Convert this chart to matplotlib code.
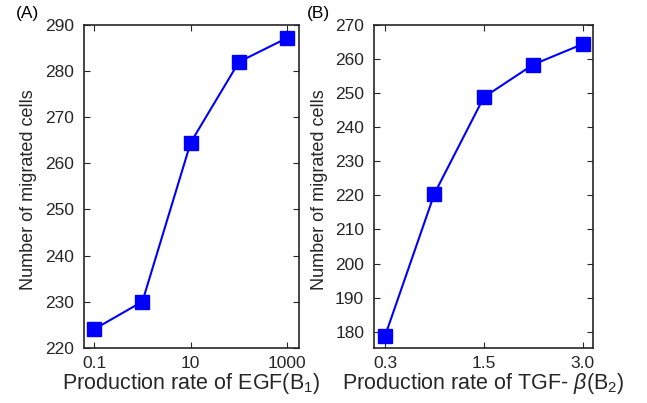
import matplotlib
matplotlib.use('Agg')
import matplotlib.pyplot as plt
from matplotlib.ticker import NullLocator

plt.rcParams['font.family'] = ['Liberation Sans', 'DejaVu Sans']
plt.rcParams['mathtext.fontset'] = 'custom'
plt.rcParams['mathtext.it'] = 'Liberation Sans:italic'
plt.rcParams['mathtext.rm'] = 'Liberation Sans'

# panel A: EGF production rate (log x)
egf_rate = [0.1, 1, 10, 100, 1000]
egf_cells = [224.0, 230.0, 264.5, 282.0, 287.2]
egf_ticks = [0.1, 10, 1000]
egf_ticklabels = ['0.1', '10', '1000']

# panel B: TGF-beta production rate (evenly spaced categories)
tgf_pos = [1, 2, 3, 4, 5]
tgf_cells = [178.7, 220.5, 248.8, 258.4, 264.4]
tgf_ticks = [1, 3, 5]
tgf_ticklabels = ['0.3', '1.5', '3.0']

dark = '#262626'
fig = plt.figure(figsize=(6.47, 4.03), dpi=100)
axA = fig.add_axes([0.1298, 0.1372, 0.3328, 0.8008])
axB = fig.add_axes([0.578, 0.1372, 0.338, 0.8008])

for ax in (axA, axB):
    ax.tick_params(direction='in', top=True, right=True, length=4, width=0.8,
                   labelsize=12.5, colors=dark, labelcolor=dark)
    ax.tick_params(axis='y', pad=7)
    ax.tick_params(axis='x', pad=6)
    for s in ax.spines.values():
        s.set_linewidth(1.2)
        s.set_color(dark)

axA.plot(egf_rate, egf_cells, '-s', color='#0000ff', lw=1.5, ms=9.5, mec='#0000ff')
axA.set_xscale('log')
axA.set_xlim(0.0617, 1774)
axA.set_ylim(220, 290)
axA.set_xticks(egf_ticks)
axA.set_xticklabels(egf_ticklabels)
axA.xaxis.set_minor_locator(NullLocator())
axA.set_yticks(range(220, 291, 10))
axA.set_xlabel('Production rate of EGF(B$_1$)', fontsize=15.5, color=dark, labelpad=0)
axA.set_ylabel('Number of migrated cells', fontsize=13, color=dark)
axA.yaxis.set_label_coords(-0.218, 0.49)

axB.plot(tgf_pos, tgf_cells, '-s', color='#0000ff', lw=1.5, ms=9.5, mec='#0000ff')
axB.set_xlim(0.777, 5.2)
axB.set_ylim(175.3, 270)
axB.set_xticks(tgf_ticks)
axB.set_xticklabels(tgf_ticklabels)
axB.set_yticks(range(180, 271, 10))
axB.set_xlabel(r'Production rate of TGF- $\beta$(B$_2$)', fontsize=15.5, color=dark, labelpad=0)
axB.set_ylabel('Number of migrated cells', fontsize=13, color=dark)
axB.yaxis.set_label_coords(-0.21, 0.49)

fig.text(0.024, 0.985, '(A)', fontsize=12.5, va='top', ha='left')
fig.text(0.474, 0.985, '(B)', fontsize=12.5, va='top', ha='left')

fig.savefig('out.png', dpi=100)
